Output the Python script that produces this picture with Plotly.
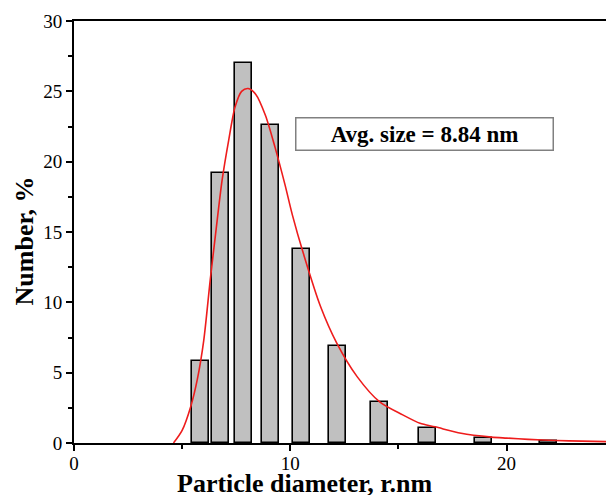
import plotly.graph_objects as go

# Histogram bars (bin centres, nm) and heights (%)
bin_centers = [5.85, 6.78, 7.86, 9.09, 10.54, 12.19, 14.11, 16.34, 18.93, 21.92]
counts = [5.8, 19.2, 27.0, 22.6, 13.8, 6.9, 2.9, 1.07, 0.34, 0.16]

# Fitted curve points
fit_x = [4.6, 5.0, 5.4, 5.7, 6.0, 6.3, 6.55, 6.85, 7.15, 7.45, 7.75, 8.05, 8.4,
         8.85, 9.3, 9.75, 10.1, 10.6, 11.4, 12.15, 13.1, 14.15, 15.2, 16.0,
         16.7, 17.9, 19.3, 20.0, 21.0, 22.3, 23.5, 24.6]
fit_y = [0.0, 0.9, 2.6, 4.5, 7.3, 11.6, 14.9, 18.7, 21.5, 23.9, 25.0, 25.2, 24.8,
         23.3, 21.0, 18.4, 16.2, 13.5, 9.7, 7.1, 4.7, 2.9, 2.0, 1.4,
         1.15, 0.69, 0.42, 0.35, 0.26, 0.18, 0.13, 0.1]

x_ticks = [0, 10, 20]
y_ticks = [0, 5, 10, 15, 20, 25, 30]
annotation_text = "Avg. size = 8.84 nm"
x_title = "Particle diameter, r.nm"
y_title = "Number, %"

FONT = "Liberation Serif, Times New Roman, serif"

fig = go.Figure()
fig.add_trace(go.Bar(
    x=bin_centers, y=counts, width=0.785,
    marker=dict(color="#c0c0c0", line=dict(color="black", width=1.6)),
    showlegend=False,
))
fig.add_trace(go.Scatter(
    x=fit_x, y=fit_y, mode="lines",
    line=dict(color="#ee1c1c", width=1.6, shape="spline", smoothing=0.8),
    showlegend=False,
))

fig.add_annotation(
    x=16.2, y=21.97, xref="x", yref="y",
    text="<b>" + annotation_text + "</b>", showarrow=False,
    font=dict(family=FONT, size=23, color="black"),
    bordercolor="#808080", borderwidth=1.5, bgcolor="white",
    width=254, height=29,
)
# axis titles as annotations for exact placement
fig.add_annotation(
    x=0.4333, y=0, xref="paper", yref="paper", xanchor="center", yanchor="top",
    yshift=-24, text="<b>" + x_title + "</b>", showarrow=False,
    font=dict(family=FONT, size=26, color="black"),
)
fig.add_annotation(
    x=-0.094, y=0.48, xref="paper", yref="paper", xanchor="center", yanchor="middle",
    textangle=-90, text="<b>" + y_title + "</b>", showarrow=False,
    font=dict(family=FONT, size=26, color="black"),
)

fig.update_layout(
    width=606, height=495,
    margin=dict(l=74, r=0, t=21, b=52),
    paper_bgcolor="white", plot_bgcolor="white",
    font=dict(family=FONT, color="black"),
    bargap=0,
)
fig.update_xaxes(
    range=[0, 24.6], tickvals=x_ticks, ticktext=[str(v) for v in x_ticks],
    showline=True, linecolor="black", linewidth=2, mirror=True,
    ticks="outside", ticklen=6, tickwidth=1.5, tickcolor="black",
    minor=dict(tickvals=[5, 15], ticks="outside", ticklen=4, tickwidth=1.5, tickcolor="black"),
    showgrid=False, zeroline=False, automargin=False,
    ticklabelstandoff=-4,
    tickfont=dict(family=FONT, size=19, color="black"),
)
fig.update_yaxes(
    range=[0, 30], tickvals=y_ticks, ticktext=[str(v) for v in y_ticks],
    showline=True, linecolor="black", linewidth=2,
    ticks="outside", ticklen=6, tickwidth=1.5, tickcolor="black",
    minor=dict(tickvals=[2.5, 7.5, 12.5, 17.5, 22.5, 27.5], ticks="outside", ticklen=4, tickwidth=1.5, tickcolor="black"),
    showgrid=False, zeroline=False, automargin=False,
    tickfont=dict(family=FONT, size=19, color="black"),
)

fig.write_html(
    "out.html",
    config={"displayModeBar": False},
    post_script="document.body.style.margin='0';document.body.style.overflow='hidden';",
)
